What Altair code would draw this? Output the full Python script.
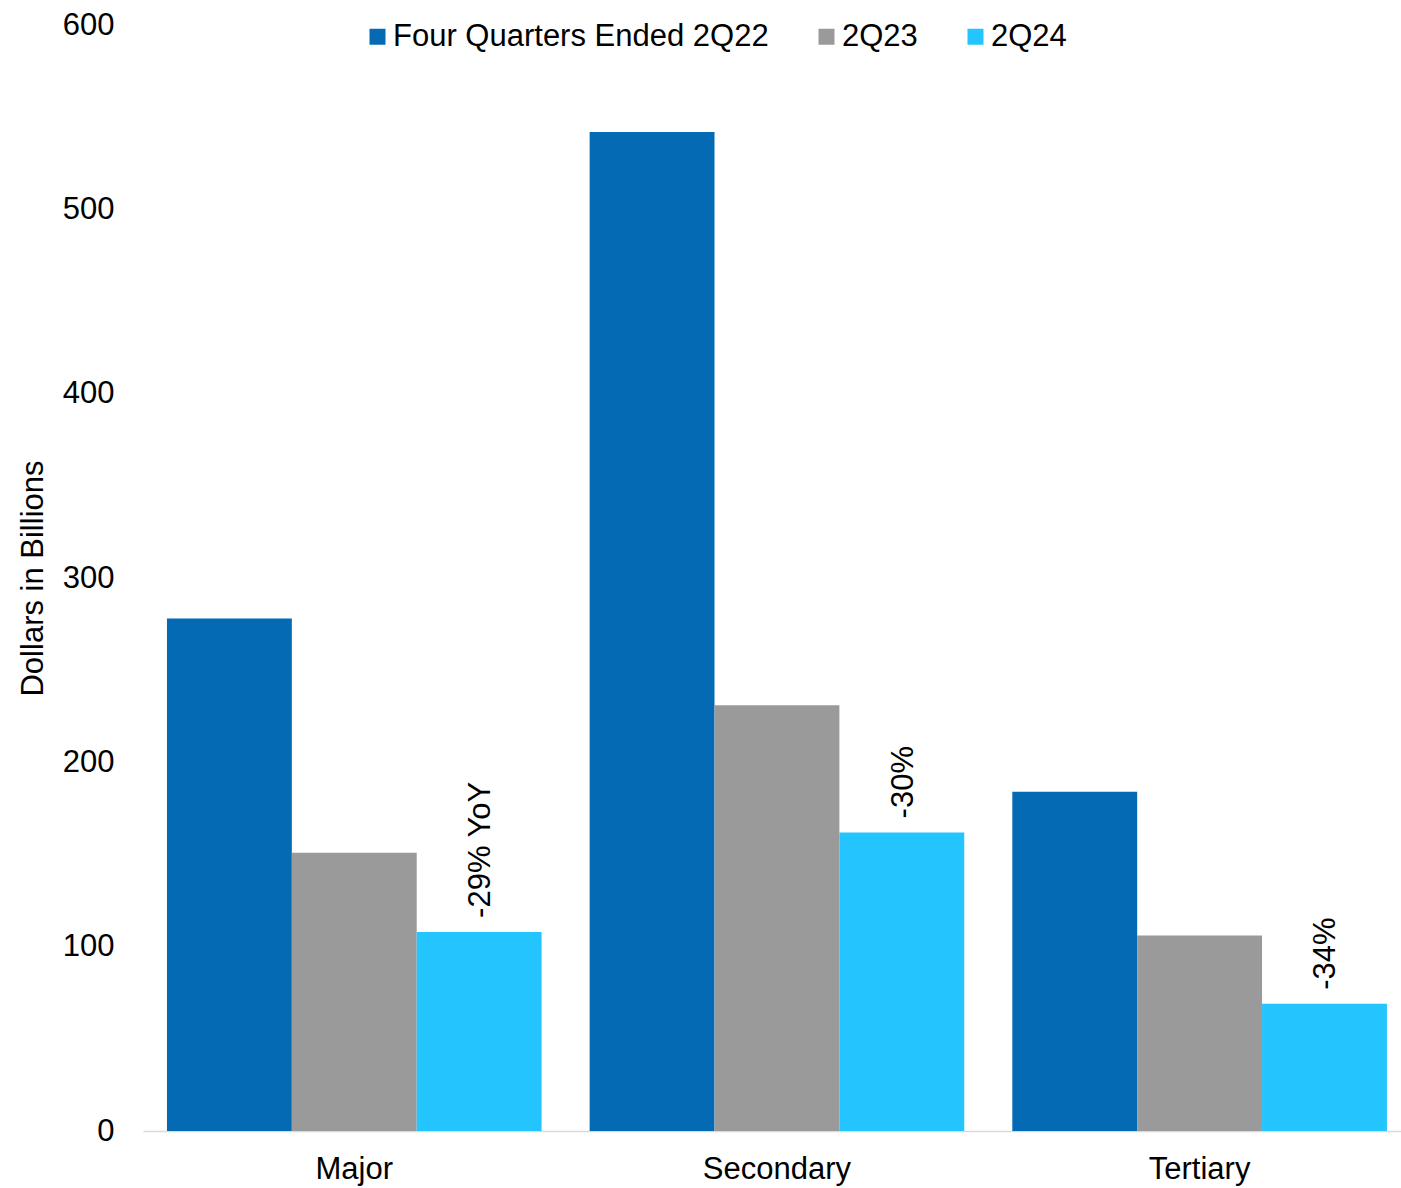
import altair as alt
import pandas as pd

categories = ["Major", "Secondary", "Tertiary"]
series = ["Four Quarters Ended 2Q22", "2Q23", "2Q24"]
values_2q22 = [278, 542, 184]
values_2q23 = [151, 231, 106]
values_2q24 = [108, 162, 69]
annotations = ["-29% YoY", "-30%", "-34%"]
colors = ["#046AB4", "#9A9A9A", "#24C5FF"]
y_ticks = [0, 100, 200, 300, 400, 500, 600]

rows = []
for i, c in enumerate(categories):
    for s, vals in zip(series, [values_2q22, values_2q23, values_2q24]):
        rows.append({"category": c, "series": s, "value": vals[i],
                     "label": annotations[i] if s == "2Q24" else ""})
df = pd.DataFrame(rows)

FONT = "Liberation Sans"
FS = 31

x = alt.X("category:N", sort=categories,
          scale=alt.Scale(paddingInner=0.1137, paddingOuter=0.045, align=0.63),
          axis=alt.Axis(title=None, labelAngle=0, labelFontSize=FS, labelFont=FONT,
                        labelColor="#000000", ticks=False, domainColor="#D9D9D9",
                        domainWidth=1.5, labelPadding=23))
xo = alt.XOffset("series:N", sort=series, scale=alt.Scale(paddingInner=0, paddingOuter=0))
y = alt.Y("value:Q", scale=alt.Scale(domain=[0, 600], nice=False, zero=True),
          axis=alt.Axis(title="Dollars in Billions", values=y_ticks, grid=False, domain=False,
                        ticks=False, labelFontSize=FS, labelFont=FONT, labelColor="#000000",
                        labelPadding=29, titleFontSize=FS, titleFont=FONT,
                        titleFontWeight="normal", titleColor="#000000", titlePadding=13))

bars = alt.Chart(df).mark_bar().encode(
    x=x, xOffset=xo, y=y,
    color=alt.Color("series:N", sort=series,
                    scale=alt.Scale(domain=series, range=colors),
                    legend=alt.Legend(title=None, orient="none", direction="horizontal",
                                      legendX=219, legendY=-4, symbolType="square",
                                      symbolSize=256, symbolStrokeWidth=0,
                                      labelFontSize=FS, labelFont=FONT, labelColor="#000000",
                                      columnPadding=42, labelOffset=0, padding=0,
                                      labelLimit=600))
)

text = alt.Chart(df).transform_filter(alt.datum.series == "2Q24").mark_text(
    angle=270, align="left", baseline="middle", dx=14, dy=2, fontSize=FS, font=FONT,
    color="#000000"
).encode(x=x, xOffset=xo, y=y, text="label:N")

chart = alt.layer(bars, text).properties(
    width=1258, height=1106,
    autosize=alt.AutoSizeParams(type="none"),
    padding={"left": 143, "top": 25, "right": 0, "bottom": 57},
).configure(background="#FFFFFF").configure_view(strokeWidth=0, stroke="transparent")

chart.save("out.html", embed_options={"renderer": "svg", "actions": False})
